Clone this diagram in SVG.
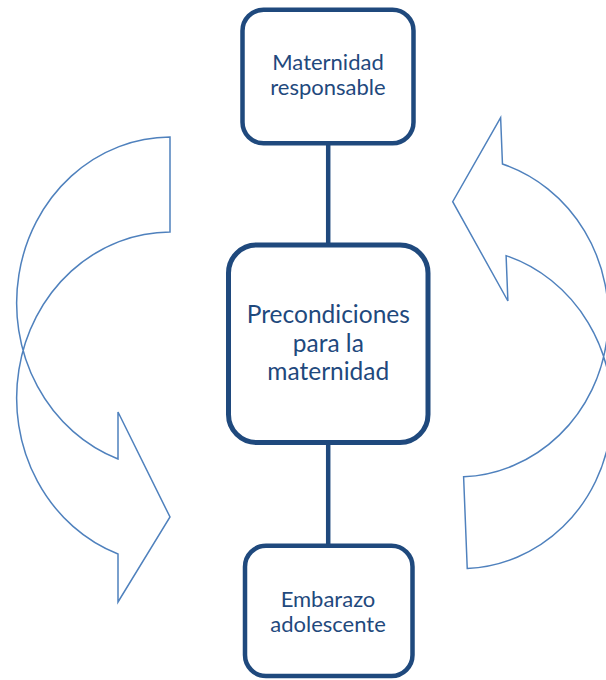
<svg xmlns="http://www.w3.org/2000/svg" xmlns:xlink="http://www.w3.org/1999/xlink" width="606" height="680" viewBox="0 0 606 680">
  <style>
    .box { fill: #ffffff; stroke: #1F497D; }
    .link { stroke: #1F497D; stroke-width: 4.5; fill: none; }
    .label { font-family: Lato, "Open Sans", "Liberation Sans", sans-serif; fill: #1F497D; text-anchor: middle; }
    .cycle { fill: none; stroke: #4F81BD; stroke-width: 1.5; stroke-linejoin: miter; }
  </style>
  <defs>
    <!-- curved arrow: tail at the top right, head at the bottom pointing right -->
    <path id="curved-arrow" d="M170,137 A154,166 0 0 0 118,459 L118,412 L170,517 L118,602 L118,554 A154,166 0 0 1 170,232 Z"/>
  </defs>

  <!-- cycle arrows around the chain -->
  <g id="arrow-left">
    <use xlink:href="#curved-arrow" href="#curved-arrow" class="cycle" vector-effect="non-scaling-stroke"/>
  </g>
  <g id="arrow-right">
    <use xlink:href="#curved-arrow" href="#curved-arrow" class="cycle" transform="translate(639.8,694.1) rotate(177.73) scale(0.985,0.966)"/>
  </g>

  <!-- vertical links between the boxes -->
  <g id="connectors">
    <line class="link" x1="328.2" y1="143" x2="328.2" y2="245"/>
    <line class="link" x1="328.2" y1="442" x2="328.2" y2="546"/>
  </g>

  <g id="node-maternidad">
    <rect class="box" x="242.5" y="9.8" width="171" height="133.5" rx="21" stroke-width="4.5"/>
    <text class="label" font-size="22" x="328" y="70">Maternidad</text>
    <text class="label" font-size="22" x="328" y="95">responsable</text>
  </g>

  <g id="node-precondiciones">
    <rect class="box" x="228.5" y="245" width="199.5" height="197.5" rx="28" stroke-width="5"/>
    <text class="label" font-size="24.5" x="328.3" y="323">Precondiciones</text>
    <text class="label" font-size="24.5" x="328.3" y="351.5">para la</text>
    <text class="label" font-size="24.5" x="328.3" y="380">maternidad</text>
  </g>

  <g id="node-embarazo">
    <rect class="box" x="245" y="545.8" width="167.5" height="130.2" rx="21" stroke-width="4.5"/>
    <text class="label" font-size="22" x="328" y="607">Embarazo</text>
    <text class="label" font-size="22" x="328" y="632">adolescente</text>
  </g>
</svg>
